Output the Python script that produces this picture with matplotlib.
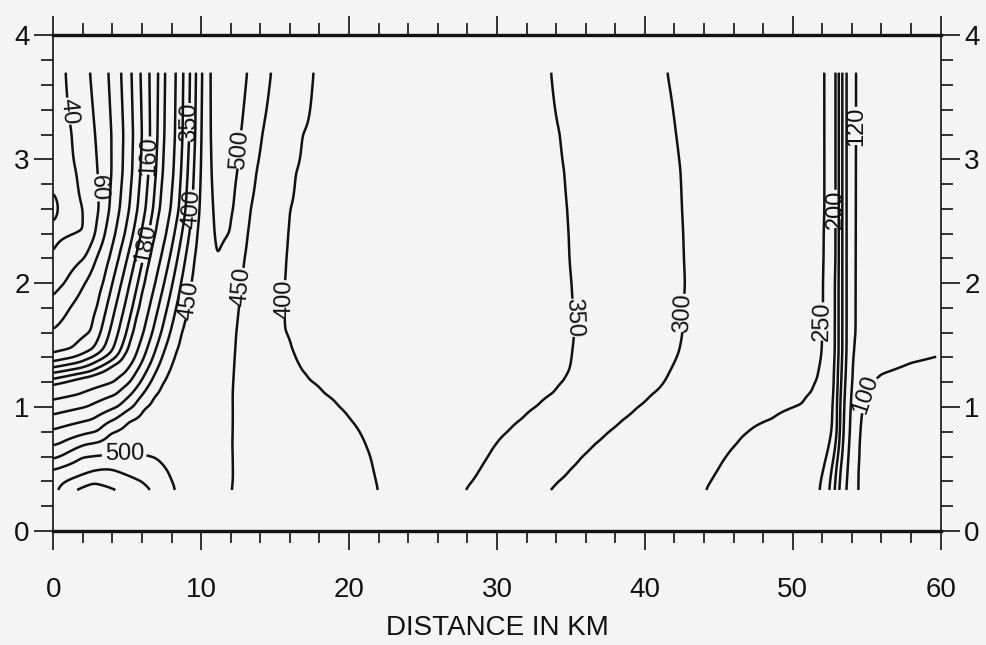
import numpy as np
import matplotlib
matplotlib.use("Agg")
import matplotlib.pyplot as plt
from matplotlib.ticker import MultipleLocator

plt.rcParams['font.family'] = ['Liberation Sans', 'DejaVu Sans']

# contour levels
levels = [40, 60, 80, 100, 120, 140, 160, 180, 200, 250, 300, 350, 400, 450, 500, 550, 600]

# field samples along depth rows: distance (km) and value at that distance
x_370 = [0, 0.84, 2.5, 3.75, 4.6, 5.3, 5.9, 6.5, 7.1, 7.6, 8.3, 8.8, 9.25, 9.65, 10.05, 10.6, 11.7, 13.1, 14.7, 17.5, 33.7, 41.5, 52.3, 52.9, 53.1, 53.35, 53.6, 54.1, 59.7]
v_370 = [30, 40, 60, 80, 100, 120, 140, 160, 180, 200, 250, 300, 350, 400, 450, 500, 552, 500, 450, 400, 350, 300, 250, 200, 180, 160, 140, 120, 110]

x_320 = [0, 1.3, 2.85, 3.95, 4.75, 5.4, 6.0, 6.55, 7.05, 7.55, 8.25, 8.75, 9.2, 9.6, 10.0, 10.6, 11.5, 12.7, 14.1, 16.75, 34.3, 42.1, 52.3, 52.9, 53.1, 53.35, 53.6, 54.1, 59.7]
v_320 = [33, 40, 60, 80, 100, 120, 140, 160, 180, 200, 250, 300, 350, 400, 450, 500, 530, 500, 450, 400, 350, 300, 250, 200, 180, 160, 140, 120, 109]

x_290 = [0, 1.65, 3.02, 3.95, 4.7, 5.35, 5.9, 6.45, 6.95, 7.45, 8.15, 8.65, 9.1, 9.5, 9.95, 10.65, 11.3, 12.5, 13.7, 16.3, 34.6, 42.4, 52.3, 52.9, 53.1, 53.35, 53.6, 54.1, 59.7]
v_290 = [36, 40, 60, 80, 100, 120, 140, 160, 180, 200, 250, 300, 350, 400, 450, 500, 518, 500, 450, 400, 350, 300, 250, 200, 180, 160, 140, 120, 108]

x_260 = [0, 0.35, 0.9, 2.1, 3.1, 3.8, 4.5, 5.15, 5.7, 6.25, 6.75, 7.25, 7.95, 8.5, 8.95, 9.4, 9.85, 10.75, 11.3, 12.25, 13.3, 15.9, 34.8, 42.5, 52.3, 52.9, 53.1, 53.35, 53.6, 54.1, 59.7]
v_260 = [43, 40, 36, 40, 60, 80, 100, 120, 140, 160, 180, 200, 250, 300, 350, 400, 450, 500, 510, 500, 450, 400, 350, 300, 250, 200, 180, 160, 140, 120, 107]

x_240 = [0, 2.16, 2.85, 3.5, 4.2, 4.85, 5.4, 5.95, 6.45, 6.95, 7.65, 8.2, 8.7, 9.2, 9.7, 10.85, 11.3, 12.0, 13.1, 15.77, 34.9, 42.58, 52.25, 52.9, 53.1, 53.35, 53.6, 54.1, 59.7]
v_240 = [37, 40, 60, 80, 100, 120, 140, 160, 180, 200, 250, 300, 350, 400, 450, 500, 507, 500, 450, 400, 350, 300, 250, 200, 180, 160, 140, 120, 106]

x_220 = [0, 2.1, 2.9, 3.8, 4.42, 5.0, 5.55, 6.08, 6.58, 7.28, 7.87, 8.4, 8.93, 9.5, 11.1, 12.9, 15.65, 34.96, 42.63, 52.24, 52.9, 53.1, 53.35, 53.6, 54.1, 59.7]
v_220 = [41, 60, 80, 100, 120, 140, 160, 180, 200, 250, 300, 350, 400, 450, 502, 450, 400, 350, 300, 250, 200, 180, 160, 140, 120, 105]

x_200 = [0, 0.78, 2.12, 3.4, 4.0, 4.6, 5.17, 5.72, 6.22, 6.9, 7.5, 8.07, 8.63, 9.27, 10.9, 12.72, 15.55, 35.1, 42.7, 52.2, 52.85, 53.1, 53.35, 53.6, 54.1, 59.7]
v_200 = [53, 60, 80, 100, 120, 140, 160, 180, 200, 250, 300, 350, 400, 450, 494, 450, 400, 350, 300, 250, 200, 180, 160, 140, 120, 104]

x_180 = [0, 1.1, 3.0, 3.6, 4.2, 4.8, 5.35, 5.85, 6.5, 7.1, 7.7, 8.3, 9.0, 10.6, 12.54, 15.52, 35.2, 42.6, 52.2, 52.85, 53.1, 53.35, 53.6, 54.1, 59.7]
v_180 = [67, 80, 100, 120, 140, 160, 180, 200, 250, 300, 350, 400, 450, 487, 450, 400, 350, 300, 250, 200, 180, 160, 140, 120, 103]

x_160 = [0, 2.6, 3.2, 3.8, 4.4, 4.95, 5.45, 6.1, 6.7, 7.3, 7.9, 8.6, 10.3, 12.37, 15.57, 35.3, 42.53, 52.14, 52.85, 53.1, 53.35, 53.6, 54.1, 59.7]
v_160 = [82, 100, 120, 140, 160, 180, 200, 250, 300, 350, 400, 450, 483, 450, 400, 350, 300, 250, 200, 180, 160, 140, 120, 102]

x_145 = [0, 1.2, 2.6, 3.36, 4.04, 4.54, 5.08, 5.69, 6.29, 6.89, 7.49, 8.23, 10.1, 12.29, 16.08, 35.16, 42.3, 52.11, 52.85, 53.1, 53.35, 53.6, 54.05, 56.0, 59.7]
v_145 = [95.5, 100, 120, 140, 160, 180, 200, 250, 300, 350, 400, 450, 481, 450, 400, 350, 300, 250, 200, 180, 160, 140, 120, 104, 101]

x_136 = [0, 1.81, 2.76, 3.77, 4.6, 5.37, 6.0, 6.61, 7.22, 7.97, 10.0, 12.24, 16.39, 35.07, 41.97, 52.02, 52.82, 53.08, 53.32, 53.57, 54.02, 55.0, 58.0, 59.7]
v_136 = [120, 140, 160, 180, 200, 250, 300, 350, 400, 450, 480, 450, 400, 350, 300, 250, 200, 180, 160, 140, 120, 104, 100, 99]

x_128 = [0, 2.5, 3.44, 4.88, 5.6, 6.26, 6.91, 7.7, 9.9, 12.2, 16.74, 34.95, 41.6, 51.88, 52.8, 53.05, 53.3, 53.55, 54.0, 54.9, 55.9, 59.7]
v_128 = [160, 180, 200, 250, 300, 350, 400, 450, 480, 450, 400, 350, 300, 250, 200, 180, 160, 140, 120, 104, 100, 97]

x_120 = [0, 0.86, 4.1, 5.2, 5.9, 6.6, 7.32, 9.7, 12.15, 17.3, 34.55, 41.3, 51.75, 52.8, 53.05, 53.27, 53.52, 53.97, 55.07, 59.7]
v_120 = [190, 200, 250, 300, 350, 400, 450, 481, 450, 400, 350, 300, 250, 200, 180, 160, 140, 120, 100, 96]

x_110 = [0, 1.67, 4.2, 5.23, 6.04, 6.78, 9.5, 12.1, 18.3, 33.86, 40.38, 51.35, 52.78, 53.02, 53.23, 53.48, 53.93, 54.72, 55.5, 59.7]
v_110 = [233, 250, 300, 350, 400, 450, 484, 450, 400, 350, 300, 250, 200, 180, 160, 140, 120, 100, 97, 94]

x_100 = [0, 2.26, 4.4, 5.41, 6.1, 9.3, 12.1, 19.3, 32.74, 39.47, 50.68, 52.75, 53.0, 53.2, 53.45, 53.9, 54.55, 59.7]
v_100 = [275, 300, 350, 400, 450, 487, 450, 400, 350, 300, 250, 200, 180, 160, 140, 120, 100, 93]

x_090 = [0, 2.63, 4.14, 5.09, 8.8, 12.1, 20.06, 31.73, 38.5, 48.6, 52.78, 53.0, 53.2, 53.42, 53.87, 54.45, 59.7]
v_090 = [317, 350, 400, 450, 490, 450, 400, 350, 300, 250, 200, 180, 160, 140, 120, 100, 92]

x_080 = [0, 2.99, 3.87, 7.5, 12.1, 20.72, 30.77, 37.5, 46.93, 52.75, 52.98, 53.18, 53.4, 53.85, 54.4, 59.7]
v_080 = [358, 400, 450, 494, 450, 400, 350, 300, 250, 200, 180, 160, 140, 120, 100, 91]

x_070 = [0, 0.4, 2.2, 5.5, 12.1, 21.12, 29.94, 36.56, 46.22, 52.6, 52.9, 53.15, 53.35, 53.8, 54.35, 59.7]
v_070 = [396, 400, 450, 490, 450, 400, 350, 300, 250, 200, 180, 160, 140, 120, 100, 90]

x_060 = [0, 0.5, 1.96, 4.5, 6.85, 12.1, 21.46, 29.43, 35.7, 45.5, 52.4, 52.8, 53.05, 53.3, 53.75, 54.35, 59.7]
v_060 = [437, 450, 500, 506, 500, 450, 400, 350, 300, 250, 200, 180, 160, 140, 120, 100, 88]

x_050 = [0, 3.29, 3.7, 4.04, 7.6, 12.1, 21.65, 28.9, 34.95, 45.0, 52.2, 52.65, 52.95, 53.2, 53.7, 54.3, 59.7]
v_050 = [502, 550, 552, 550, 500, 450, 400, 350, 300, 250, 200, 180, 160, 140, 120, 100, 87]

x_040 = [0, 1.03, 2.8, 5.94, 7.95, 12.1, 21.85, 28.4, 34.1, 44.5, 52.0, 52.55, 52.9, 53.15, 53.65, 54.3, 59.7]
v_040 = [530, 550, 592, 550, 500, 450, 400, 350, 300, 250, 200, 180, 160, 140, 120, 100, 86]

x_033 = [0, 0.3, 1.2, 2.6, 4.6, 6.7, 8.2, 12.0, 22.0, 27.8, 33.4, 44.1, 51.9, 52.5, 52.85, 53.1, 53.6, 54.3, 59.7]
v_033 = [545, 550, 602, 630, 602, 550, 500, 450, 400, 350, 300, 250, 200, 180, 160, 140, 120, 100, 85]

depths = [3.70, 3.20, 2.90, 2.60, 2.40, 2.20, 2.00, 1.80, 1.60, 1.45, 1.36, 1.28,
          1.20, 1.10, 1.00, 0.90, 0.80, 0.70, 0.60, 0.50, 0.40, 0.33]
row_x = [x_370, x_320, x_290, x_260, x_240, x_220, x_200, x_180, x_160, x_145, x_136, x_128,
         x_120, x_110, x_100, x_090, x_080, x_070, x_060, x_050, x_040, x_033]
row_v = [v_370, v_320, v_290, v_260, v_240, v_220, v_200, v_180, v_160, v_145, v_136, v_128,
         v_120, v_110, v_100, v_090, v_080, v_070, v_060, v_050, v_040, v_033]

# contour labels: level, distance, depth
label_level = [40, 60, 160, 180, 350, 400, 450, 450, 500, 500, 400, 350, 300, 250, 120, 200, 100]
label_x = [1.14, 3.05, 6.5, 6.1, 9.25, 9.45, 9.1, 12.65, 12.6, 4.8, 15.55, 35.1, 42.6, 52.2, 54.2, 52.9, 55.0]
label_y = [3.39, 2.77, 3.03, 2.32, 3.30, 2.60, 1.86, 1.97, 3.08, 0.63, 1.87, 1.72, 1.76, 1.69, 3.27, 2.60, 1.10]


def build_field(nx=1195, ny=338):
    xf = np.linspace(0.0, max(max(r) for r in row_x), nx)
    yf = np.linspace(min(depths), max(depths), ny)
    order = np.argsort(depths)
    d = np.asarray(depths)[order]
    rows = np.array([np.interp(xf, row_x[k], row_v[k]) for k in order])
    idx = np.clip(np.searchsorted(d, yf, side='right') - 1, 0, len(d) - 2)
    t = (yf - d[idx]) / (d[idx + 1] - d[idx])
    z = (1 - t)[:, None] * rows[idx] + t[:, None] * rows[idx + 1]
    return xf, yf, z


def smooth(z, sig_x, sig_y):
    for axis, sig in ((1, sig_x), (0, sig_y)):
        r = int(3 * sig) + 1
        k = np.exp(-0.5 * (np.arange(-r, r + 1) / sig) ** 2)
        k /= k.sum()
        pad = [(0, 0), (0, 0)]
        pad[axis] = (r, r)
        zp = np.pad(z, pad, mode='edge')
        z = np.apply_along_axis(lambda m: np.convolve(m, k, mode='valid'), axis, zp)
    return z


xf, yf, Z = build_field()
Z = smooth(Z, 3.0, 4.0)

bg = '#f4f4f4'
ink = '#111111'
fig = plt.figure(figsize=(9.86, 6.45), dpi=100, facecolor=bg)
ax = fig.add_axes([0.054, 0.177, 0.900, 0.768], facecolor=bg)

# one contour set per level so each label attaches to its own level
level_sets = {}
for lev in levels:
    level_sets[lev] = ax.contour(xf, yf, Z, levels=[lev], colors=ink, linewidths=1.8)
for lev, lx, ly in zip(label_level, label_x, label_y):
    ax.clabel(level_sets[lev], manual=[(lx, ly)], inline=True, inline_spacing=3,
              fmt='%d', fontsize=17, colors=ink)

ax.set_xlim(0, 60)
ax.set_ylim(0, 4)
ax.xaxis.set_major_locator(MultipleLocator(10))
ax.xaxis.set_minor_locator(MultipleLocator(2))
ax.yaxis.set_major_locator(MultipleLocator(1))
ax.yaxis.set_minor_locator(MultipleLocator(0.2))

ax.tick_params(axis='x', which='both', direction='out', top=True, bottom=True,
               labeltop=False, colors=ink)
ax.tick_params(axis='y', which='both', direction='out', left=True, right=True,
               labelright=True, colors=ink)
ax.tick_params(which='major', length=14, width=1.2)
ax.tick_params(which='minor', length=8.5, width=1.2)
ax.tick_params(axis='x', which='major', pad=19, labelsize=20)
ax.tick_params(axis='y', which='major', pad=3, labelsize=20)

for side in ('top', 'bottom'):
    ax.spines[side].set_linewidth(2.4)
for side in ('left', 'right'):
    ax.spines[side].set_linewidth(1.2)
for sp in ax.spines.values():
    sp.set_color(ink)

ax.set_xlabel('DISTANCE IN KM', fontsize=20, labelpad=9, color=ink)

fig.savefig('out.png', dpi=100, facecolor=bg)
